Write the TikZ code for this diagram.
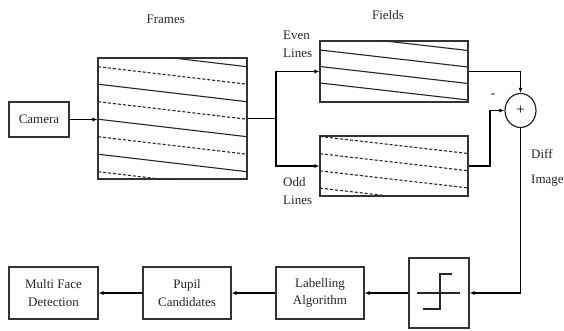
\documentclass[tikz,border=0pt]{standalone}
\usepackage{fontspec}
\setmainfont{Liberation Serif}
\usetikzlibrary{arrows.meta,shapes.geometric,calc}
\begin{document}
\begin{tikzpicture}[x=1pt,y=-1pt,
  box/.style={draw=black!80, line width=1.1pt, rectangle, inner sep=0pt, align=center,
    font=\fontsize{13}{17.5}\selectfont, text=black!85},
  conn/.style={line width=1.4pt, -{Latex[length=5pt,width=4pt]}},
  plain/.style={line width=1.4pt},
  lbl/.style={font=\fontsize{13}{18}\selectfont, text=black!85, inner sep=0pt, align=left},
  fl/.style={line width=1.1pt, black!85},
  fld/.style={line width=1.1pt, black!85, dash pattern=on 3pt off 2pt}]
\useasboundingbox (0,0) rectangle (564,331);

% nodes
\node[box, minimum width=60pt, minimum height=35pt] (cam) at (39,119.5) {Camera};
\node[box, minimum width=149pt, minimum height=121pt] (frames) at (172.5,118.5) {};
\node[box, minimum width=148pt, minimum height=61pt] (even) at (394,71.5) {};
\node[box, minimum width=148pt, minimum height=60pt] (odd) at (394,166) {};
\node[draw=black!85, line width=1.2pt, ellipse, minimum width=31pt, minimum height=34pt, inner sep=0pt] (sum) at (520.5,110.5) {\fontsize{15}{15}\selectfont +};
\node[box, minimum width=60pt, minimum height=70pt] (thr) at (439,293) {};
\node[box, minimum width=88pt, minimum height=52pt] (lab) at (320,293) {Labelling\\Algorithm};
\node[box, minimum width=88pt, minimum height=52pt] (pup) at (187,293) {Pupil\\Candidates};
\node[box, minimum width=89pt, minimum height=52pt] (multi) at (53.5,293) {Multi Face\\Detection};

% labels
\node[lbl] (tframes) at (165.7,19) {Frames};
\node[lbl] (tfields) at (388,15) {Fields};
\node[lbl, anchor=west] (teven) at (283,44) {Even\\Lines};
\node[lbl, anchor=west] (todd) at (283,191.5) {Odd\\Lines};
\node[lbl, anchor=west, font=\fontsize{13}{25}\selectfont] (tdiff) at (531,167.5) {Diff\\Image};
\node[lbl, font=\fontsize{13}{13}\selectfont\bfseries] (tminus) at (493,96) {-};

% frame lines
\begin{scope}
\clip (frames.north west) rectangle (frames.south east);
\foreach \k in {0,2,4,6} \draw[fl] (98,{49.2+17.5*\k}) -- (247,{66.7+17.5*\k});
\foreach \k in {1,3,5,7} \draw[fld] (98,{49.2+17.5*\k}) -- (247,{66.7+17.5*\k});
\end{scope}
\begin{scope}
\clip (even.north west) rectangle (even.south east);
\foreach \k in {0,1,2,3} \draw[fl] (320,{33.5+16.5*\k}) -- (468,{50.5+16.5*\k});
\end{scope}
\begin{scope}
\clip (odd.north west) rectangle (odd.south east);
\foreach \k in {0,1,2,3} \draw[fld] (320,{136.5+17.2*\k}) -- (468,{153.5+17.2*\k});
\end{scope}

% threshold symbol
\draw[fl] ($(thr.center)+(-22,0)$) -- ($(thr.center)+(21,0)$);
\draw[fl] ($(thr.center)+(-16,16)$) -- ++(17,0) -- ++(0,-35) -- ++(11.7,0);

% connectors
\coordinate (J) at (276,118.5);
\coordinate (K) at (490,166);
\coordinate (L) at (520.5,293);
\draw[conn] (cam.east) -- (cam.east -| frames.west);
\draw[plain] (frames.east) -- (J);
\draw[conn] (J) |- (even.west);
\draw[conn] (J) |- (odd.west);
\draw[conn] (even.east) -| (sum.north);
\draw[conn] (odd.east) -- (K) |- (sum.west);
\draw[conn] (sum.south) -- (L) -- (thr.east);
\draw[conn] (thr.west) -- (lab.east);
\draw[conn] (lab.west) -- (pup.east);
\draw[conn] (pup.west) -- (multi.east);
\end{tikzpicture}
\end{document}
